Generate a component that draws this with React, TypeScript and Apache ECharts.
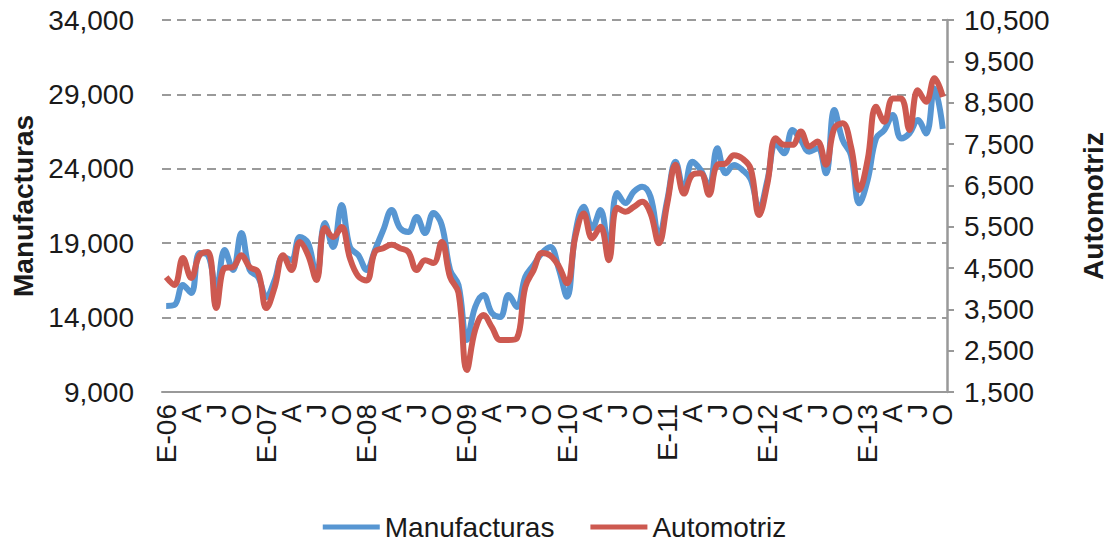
import React, { useEffect, useRef } from "react";
import * as echarts from "echarts";

const monthInitials = ["E", "F", "M", "A", "M", "J", "J", "A", "S", "O", "N", "D"];
const startYear = 2006;
const pointCount = 94;
const labelStep = 3;

const categories: string[] = Array.from({ length: pointCount }, (_, i) => {
  const m = i % 12;
  const y = startYear + Math.floor(i / 12);
  return m === 0 ? `E-${String(y % 100).padStart(2, "0")}` : monthInitials[m];
});

const manufacturas = [
  14780, 14850, 16190, 15650, 18340, 18200, 15850, 18540, 17200, 19680, 17200, 16730,
  15380, 16530, 18070, 17870, 19420, 19000, 16730, 20360, 18740, 21560, 18740, 18200,
  17200, 18540, 19890, 21230, 20020, 19750, 20760, 19680, 21030, 20220, 17200, 16190,
  12500, 14710, 15520, 14310, 14040, 15520, 14710, 16730, 17540, 18340, 18740, 17300,
  15400, 19680, 21450, 20020, 21230, 18540, 22370, 21700, 22460, 22800, 22120, 19440,
  21900, 24480, 22570, 24480, 23920, 22800, 25380, 23700, 24250, 23920, 23300, 21300,
  23250, 25710, 25040, 26610, 25930, 25150, 25380, 23700, 27950, 25930, 24920, 21680,
  23250, 26040, 26610, 27610, 26040, 26380, 27280, 26380, 29400, 26690,
];

const automotriz = [
  4280, 4090, 4740, 4260, 4810, 4890, 3530, 4500, 4520, 4810, 4520, 4400,
  3530, 4040, 4810, 4450, 5130, 4810, 4210, 5470, 5250, 5490, 4740, 4300,
  4200, 4890, 4980, 5060, 4980, 4890, 4450, 4690, 4620, 5130, 4280, 3900,
  2030, 3000, 3360, 3070, 2760, 2760, 2800, 4040, 4450, 4860, 4800, 4550,
  4130, 5260, 5820, 5220, 5500, 4690, 5960, 5860, 5980, 6100, 5820, 5100,
  6060, 7000, 6300, 6750, 6790, 6270, 7000, 7030, 7230, 7150, 6900, 5780,
  6550, 7640, 7480, 7480, 7800, 7440, 7560, 7000, 7880, 8000, 7440, 6390,
  7120, 8400, 8040, 8600, 8600, 7840, 8800, 8520, 9090, 8640,
];

const leftAxis = { name: "Manufacturas", min: 9000, max: 34000, interval: 5000 };
const rightAxis = { name: "Automotriz", min: 1500, max: 10500, interval: 1000 };

const BLUE = "#5796D2";
const RED = "#CD5950";
const FONT = "Liberation Sans";
const TXT = "#1a1a1a";
const fmt = (v: number) => v.toLocaleString("en-US");

export default function App() {
  const ref = useRef<HTMLDivElement>(null);
  useEffect(() => {
    if (!ref.current) return;
    const chart = echarts.init(ref.current, null, { renderer: "svg" });
    chart.setOption({
      animation: false,
      backgroundColor: "#ffffff",
      textStyle: { fontFamily: FONT },
      grid: {
        left: 162,
        right: 162,
        top: 20,
        bottom: 150,
        containLabel: false,
        outerBoundsMode: "none",
      },
      legend: {
        data: ["Manufacturas", "Automotriz"],
        left: "center",
        top: 508,
        icon: "rect",
        itemWidth: 57,
        itemHeight: 5,
        itemGap: 36,
        textStyle: { fontSize: 28, color: TXT, fontFamily: FONT },
      },
      xAxis: {
        type: "category",
        data: categories,
        boundaryGap: true,
        axisLine: { show: true, lineStyle: { color: "#999", width: 2 } },
        axisTick: { show: false },
        axisLabel: {
          interval: 0,
          rotate: 90,
          margin: 12,
          fontSize: 28,
          color: TXT,
          fontFamily: FONT,
          formatter: (value: string, index: number) => (index % labelStep === 0 ? value : ""),
        },
        splitLine: { show: false },
      },
      yAxis: [
        {
          type: "value",
          name: leftAxis.name,
          nameLocation: "middle",
          nameRotate: 90,
          nameGap: 121,
          nameTextStyle: { fontSize: 28, fontWeight: "bold", color: TXT, fontFamily: FONT },
          min: leftAxis.min,
          max: leftAxis.max,
          interval: leftAxis.interval,
          axisLine: { show: false },
          axisTick: { show: false },
          axisLabel: { fontSize: 28, color: TXT, margin: 28, formatter: fmt, fontFamily: FONT },
          splitLine: { show: true, lineStyle: { color: "#9a9a9a", width: 2, type: [9, 6] } },
        },
        {
          type: "value",
          name: rightAxis.name,
          nameLocation: "middle",
          nameRotate: 90,
          nameGap: 132,
          nameTextStyle: { fontSize: 28, fontWeight: "bold", color: TXT, fontFamily: FONT },
          min: rightAxis.min,
          max: rightAxis.max,
          interval: rightAxis.interval,
          position: "right",
          axisLine: { show: true, lineStyle: { color: "#999", width: 2.5 } },
          axisTick: { show: true, inside: false, length: 7, lineStyle: { color: "#999", width: 2 } },
          axisLabel: { fontSize: 28, color: TXT, margin: 17, formatter: fmt, fontFamily: FONT },
          splitLine: { show: false },
        },
      ],
      series: [
        {
          name: "Manufacturas",
          type: "line",
          yAxisIndex: 0,
          data: manufacturas,
          smooth: 0.4,
          symbol: "none",
          lineStyle: { color: BLUE, width: 6 },
          itemStyle: { color: BLUE },
        },
        {
          name: "Automotriz",
          type: "line",
          yAxisIndex: 1,
          data: automotriz,
          smooth: 0.4,
          symbol: "none",
          lineStyle: { color: RED, width: 6 },
          itemStyle: { color: RED },
        },
      ],
    });
    return () => chart.dispose();
  }, []);
  return (
    <div
      ref={ref}
      style={{ position: "fixed", left: 0, top: 0, width: 1109, height: 542, background: "#fff" }}
    />
  );
}
